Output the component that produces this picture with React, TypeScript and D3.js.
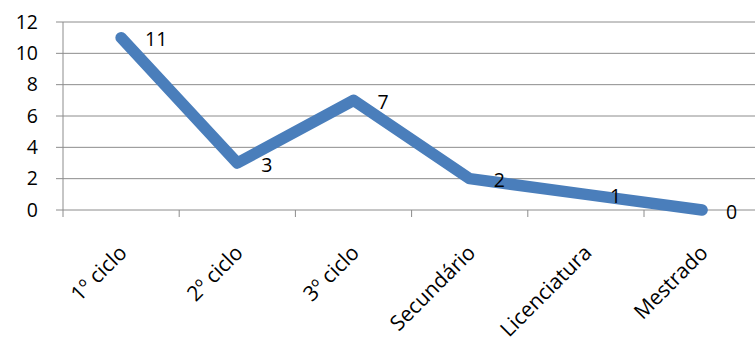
import React from "react";
import * as d3 from "d3";

const categories = ["1º ciclo", "2º ciclo", "3º ciclo", "Secundário", "Licenciatura", "Mestrado"];
const values = [11, 3, 7, 2, 1, 0];
const yTicks = [0, 2, 4, 6, 8, 10, 12];

const W = 755;
const H = 343;
const left = 63;
const step = 116.2;
const top = 22;
const bottom = 210;

export default function App() {
  const x = d3
    .scaleBand<string>()
    .domain(categories)
    .range([left, left + step * categories.length]);
  const y = d3.scaleLinear().domain([0, 12]).range([bottom, top]);
  const cx = (c: string) => (x(c) ?? 0) + x.bandwidth() / 2;

  const line = d3
    .line<number>()
    .x((_, i) => cx(categories[i]))
    .y((d) => y(d));

  const font = "'Open Sans', 'Noto Sans', sans-serif";
  const grid = "#8c8c8c";

  return (
    <svg
      width={W}
      height={H}
      style={{ position: "absolute", left: 0, top: 0, background: "#fff" }}
      fontFamily={font}
    >
      {yTicks.map((t) => (
        <g key={t}>
          <line x1={left - 7} x2={W} y1={y(t)} y2={y(t)} stroke={grid} strokeWidth={1} />
          <text x={38} y={y(t)} dy="0.35em" textAnchor="end" fontSize={19.5} fill="#000">
            {t}
          </text>
        </g>
      ))}
      <line x1={left} x2={left} y1={top} y2={bottom + 7} stroke={grid} strokeWidth={1} />
      {categories.map((c) => (
        <line
          key={c}
          x1={(x(c) ?? 0) + x.bandwidth()}
          x2={(x(c) ?? 0) + x.bandwidth()}
          y1={bottom}
          y2={bottom + 7}
          stroke={grid}
          strokeWidth={1}
        />
      ))}
      <path
        d={line(values) ?? ""}
        fill="none"
        stroke="#4a7ebb"
        strokeWidth={11.5}
        strokeLinecap="round"
        strokeLinejoin="round"
      />
      {values.map((v, i) => (
        <text
          key={i}
          x={cx(categories[i]) + 24}
          y={y(v) + 2}
          dy="0.35em"
          fontSize={19.5}
          fill="#000"
        >
          {v}
        </text>
      ))}
      {categories.map((c) => (
        <text
          key={c}
          transform={`translate(${cx(c) + 7},${254}) rotate(-45)`}
          textAnchor="end"
          fontSize={21}
          fill="#000"
        >
          {c}
        </text>
      ))}
    </svg>
  );
}
